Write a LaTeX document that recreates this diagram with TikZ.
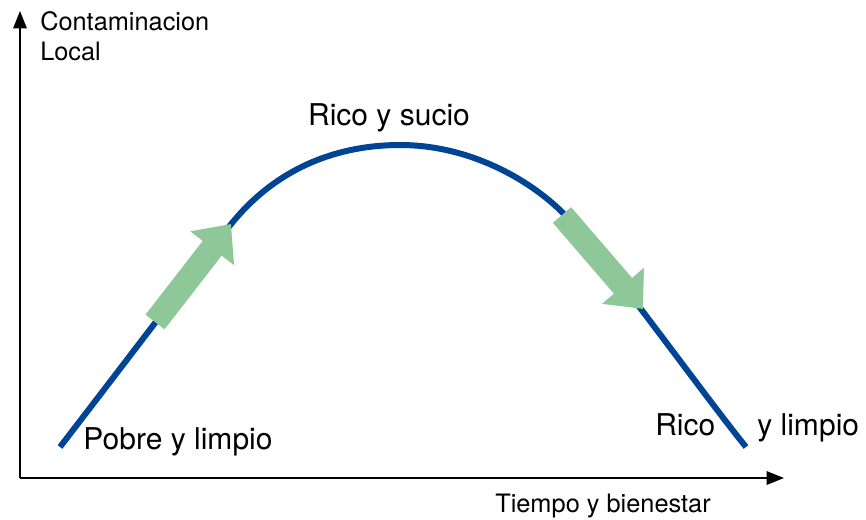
\documentclass[tikz,border=0pt]{standalone}
\usepackage{fontspec}
\setmainfont{TeX Gyre Heros}
\usetikzlibrary{arrows.meta}
\definecolor{curveblue}{RGB}{0,68,150}
\definecolor{trendgreen}{RGB}{143,200,152}
\tikzstyle{axis}=[line width=1.5pt,-{Triangle[length=13pt,width=10pt]}]
\tikzstyle{kurve}=[line width=4.5pt,curveblue]
\tikzstyle{trend}=[line width=18pt,trendgreen,-{Triangle[length=23pt,width=40pt]}]
\tikzstyle{axlabel}=[inner sep=0pt,font=\fontsize{19}{22.5}\selectfont]
\tikzstyle{stage}=[inner sep=0pt,font=\fontsize{22.5}{27}\selectfont]

\begin{document}
\begin{tikzpicture}[x=0.75pt,y=-0.75pt]
\useasboundingbox (0,0) rectangle (866,519);
\coordinate (O) at (20,478);
\coordinate (Ytop) at (20,11);
\coordinate (Xend) at (784,478);
\draw[axis](O)--(Ytop);
\draw[axis](O)--(Xend);
\node[axlabel,anchor=north west,align=left] (ylab) at (40,11) {Contaminacion\\Local};
\node[axlabel,anchor=base] (xlab) at (603,512) {Tiempo y bienestar};
% curva
\coordinate (c0) at (60,447);
\coordinate (c1) at (228,228);
\coordinate (top) at (400,145);
\coordinate (c3) at (563,213);
\coordinate (c4) at (746,447);
\draw[kurve](c0) .. controls (120,369) and (180,290) .. (c1)
  .. controls (276,166) and (340,145) .. (top)
  .. controls (470,145) and (530,180) .. (c3)
  .. controls (600,250) and (700,390) .. (c4);
% flechas
\coordinate (up0) at (155,322);
\coordinate (up1) at (231,224);
\coordinate (dn0) at (562,215);
\coordinate (dn1) at (643,309);
\draw[trend](up0)--(up1);
\draw[trend](dn0)--(dn1);
\node[stage,anchor=base] (sucio) at (389,125) {Rico y sucio};
\node[stage,anchor=base] (pobre) at (178,449) {Pobre y limpio};
\node[stage,anchor=base west] (rico) at (655,435) {Rico};
\node[stage,anchor=base west] (limpio) at (757,435) {y limpio};
\end{tikzpicture}
\end{document}
